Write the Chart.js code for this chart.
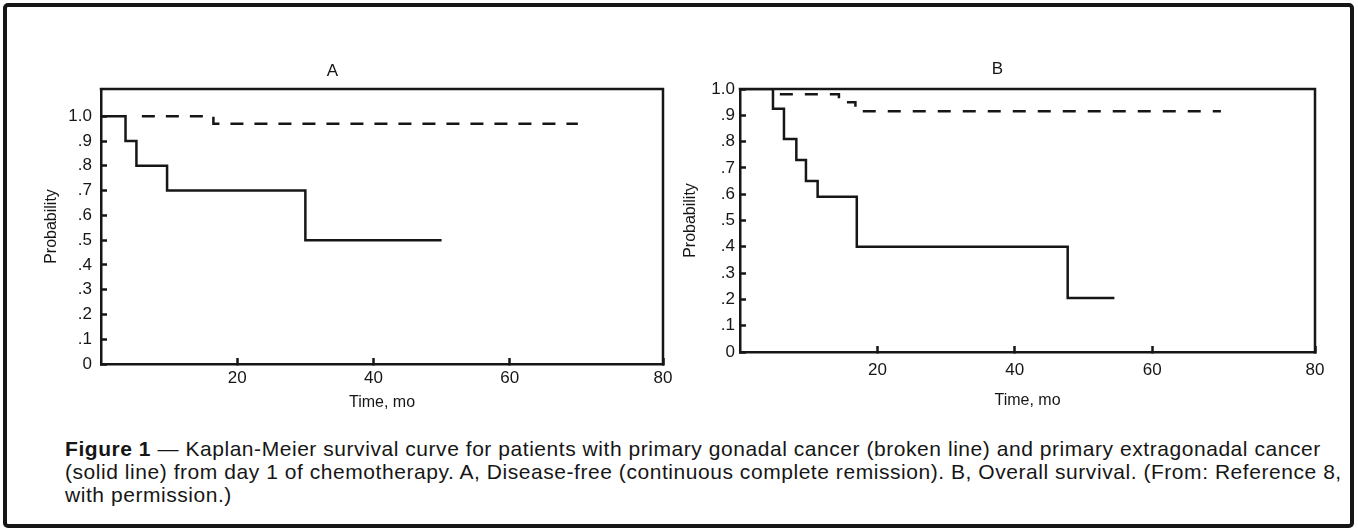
<!DOCTYPE html>
<html>
<head>
<meta charset="utf-8">
<script src="https://cdn.jsdelivr.net/npm/chart.js@4.4.1/dist/chart.umd.min.js"></script>
<style>
  body { margin: 0; width: 1358px; height: 531px; background: #fff; position: relative; overflow: hidden; font-family: "Liberation Sans", Arial, sans-serif; color: #161616; }
  #frame { position: absolute; left: 3px; top: 3px; width: 1343px; height: 517px; border: 4px solid #161616; border-radius: 5px; }
  .box { position: absolute; }
  #caption { position: absolute; left: 65px; top: 437px; font-size: 21px; letter-spacing: 0.55px; line-height: 23px; white-space: nowrap; }
  #caption b { font-weight: bold; }
</style>
</head>
<body>
<div id="frame"></div>
<div class="box" style="left:2px; top:55px;"><canvas id="chartA" width="684" height="357"></canvas></div>
<div class="box" style="left:680px; top:55px;"><canvas id="chartB" width="667" height="355"></canvas></div>
<div id="caption"><b>Figure 1</b> — Kaplan-Meier survival curve for patients with primary gonadal cancer (broken line) and primary extragonadal cancer<br>(solid line) from day 1 of chemotherapy. A, Disease-free (continuous complete remission). B, Overall survival. (From: Reference 8,<br>with permission.)</div>

<script>
// time in months, survival probability
var aSolidTimes = [0, 3.6, 5.2, 9.7, 30, 50];
var aSolidSurv = [1.0, 0.9, 0.8, 0.7, 0.5, 0.5];
var aDashTimes = [6, 16.5, 70];
var aDashSurv = [1.0, 0.97, 0.97];

var bSolidTimes = [0, 4.8, 6.4, 8.2, 9.6, 11.3, 17, 47.7, 54.5];
var bSolidSurv = [1.0, 0.925, 0.81, 0.73, 0.65, 0.59, 0.40, 0.205, 0.205];
var bDashTimes = [5.8, 14.4, 16.8, 70];
var bDashSurv = [0.98, 0.95, 0.915, 0.915];

var xTickValuesA = [20, 40, 60, 82.5];
var xTickValuesB = [20, 40, 60, 83.7];
var xTickLabels = ['20', '40', '60', '80'];
var yTickValues = [0, 0.1, 0.2, 0.3, 0.4, 0.5, 0.6, 0.7, 0.8, 0.9, 1.0];
var yTickLabels = ['0', '.1', '.2', '.3', '.4', '.5', '.6', '.7', '.8', '.9', '1.0'];

var ink = '#161616';

function toPoints(times, surv) {
    return times.map(function (t, i) { return { x: t, y: surv[i] }; });
}

// top and right edges of the plot box
var boxPlugin = {
    id: 'box',
    afterDraw: function (chart) {
        var a = chart.chartArea;
        var ctx = chart.ctx;
        ctx.save();
        ctx.strokeStyle = ink;
        ctx.lineWidth = 2.5;
        ctx.beginPath();
        ctx.moveTo(a.left - 1.25, a.top);
        ctx.lineTo(a.right, a.top);
        ctx.lineTo(a.right, a.bottom + 1.25);
        ctx.stroke();
        ctx.restore();
    }
};

function makeChart(id, o) {
    var ctx = document.getElementById(id).getContext('2d');
    return new Chart(ctx, {
        type: 'line',
        data: {
            datasets: [{
                data: toPoints(o.solidTimes, o.solidSurv),
                borderColor: ink,
                borderWidth: 2.5,
                pointRadius: 0,
                stepped: true,
                fill: false
            }, {
                data: toPoints(o.dashTimes, o.dashSurv),
                borderColor: ink,
                borderWidth: 2.5,
                borderDash: o.dash,
                pointRadius: 0,
                stepped: true,
                fill: false
            }]
        },
        options: {
            responsive: false,
            animation: false,
            layout: { padding: { left: 0, right: o.padRight, top: 0, bottom: 0 } },
            plugins: {
                legend: { display: false },
                tooltip: { enabled: false },
                title: {
                    display: true,
                    text: o.title,
                    color: ink,
                    font: { family: 'Liberation Sans', size: 17, weight: 'normal' },
                    padding: o.titlePad
                }
            },
            scales: {
                x: {
                    type: 'linear',
                    min: 0,
                    max: o.xMax,
                    afterBuildTicks: function (scale) {
                        scale.ticks = o.xTicks.map(function (v) { return { value: v }; });
                    },
                    afterFit: function (scale) { scale.height = o.xHeight; },
                    grid: { drawOnChartArea: false, drawTicks: true, tickLength: -6, tickWidth: 2.5, color: ink },
                    border: { display: true, color: ink, width: 2.5 },
                    ticks: {
                        padding: o.xTickPad,
                        color: ink,
                        maxRotation: 0,
                        autoSkip: false,
                        font: { family: 'Liberation Sans', size: 17 },
                        callback: function (value, index) { return xTickLabels[index]; }
                    },
                    title: {
                        display: true,
                        text: 'Time, mo',
                        color: ink,
                        font: { family: 'Liberation Sans', size: 16 },
                        padding: { top: 0, bottom: 0 }
                    }
                },
                y: {
                    min: 0,
                    max: o.yMax,
                    afterBuildTicks: function (scale) {
                        scale.ticks = yTickValues.map(function (v) { return { value: v }; });
                    },
                    afterFit: function (scale) { scale.width = o.yWidth; },
                    grid: { drawOnChartArea: false, drawTicks: true, tickLength: -6, tickWidth: 2.5, color: ink },
                    border: { display: true, color: ink, width: 2.5 },
                    ticks: {
                        padding: o.yTickPad,
                        color: ink,
                        autoSkip: false,
                        font: { family: 'Liberation Sans', size: 17 },
                        callback: function (value, index) { return yTickLabels[index]; }
                    },
                    title: {
                        display: true,
                        text: 'Probability',
                        color: ink,
                        font: { family: 'Liberation Sans', size: 16 },
                        padding: { top: o.yTitlePad, bottom: 0 }
                    }
                }
            }
        },
        plugins: [boxPlugin]
    });
}

makeChart('chartA', {
    title: 'A',
    titlePad: { top: 6.5, bottom: 7.1 },
    solidTimes: aSolidTimes, solidSurv: aSolidSurv,
    dashTimes: aDashTimes, dashSurv: aDashSurv,
    dash: [13, 11],
    xMax: 82.5, xTicks: xTickValuesA, yMax: 1.11,
    padRight: 23, xHeight: 48, yWidth: 99,
    xTickPad: 9.8, yTickPad: 15, yTitlePad: 40
});

makeChart('chartB', {
    title: 'B',
    titlePad: { top: 4.1, bottom: 9.5 },
    solidTimes: bSolidTimes, solidSurv: bSolidSurv,
    dashTimes: bDashTimes, dashSurv: bDashSurv,
    dash: [13, 12],
    xMax: 83.7, xTicks: xTickValuesB, yMax: 1.0,
    padRight: 32, xHeight: 58, yWidth: 60,
    xTickPad: 14, yTickPad: 11, yTitlePad: 1.4
});
</script>
</body>
</html>
